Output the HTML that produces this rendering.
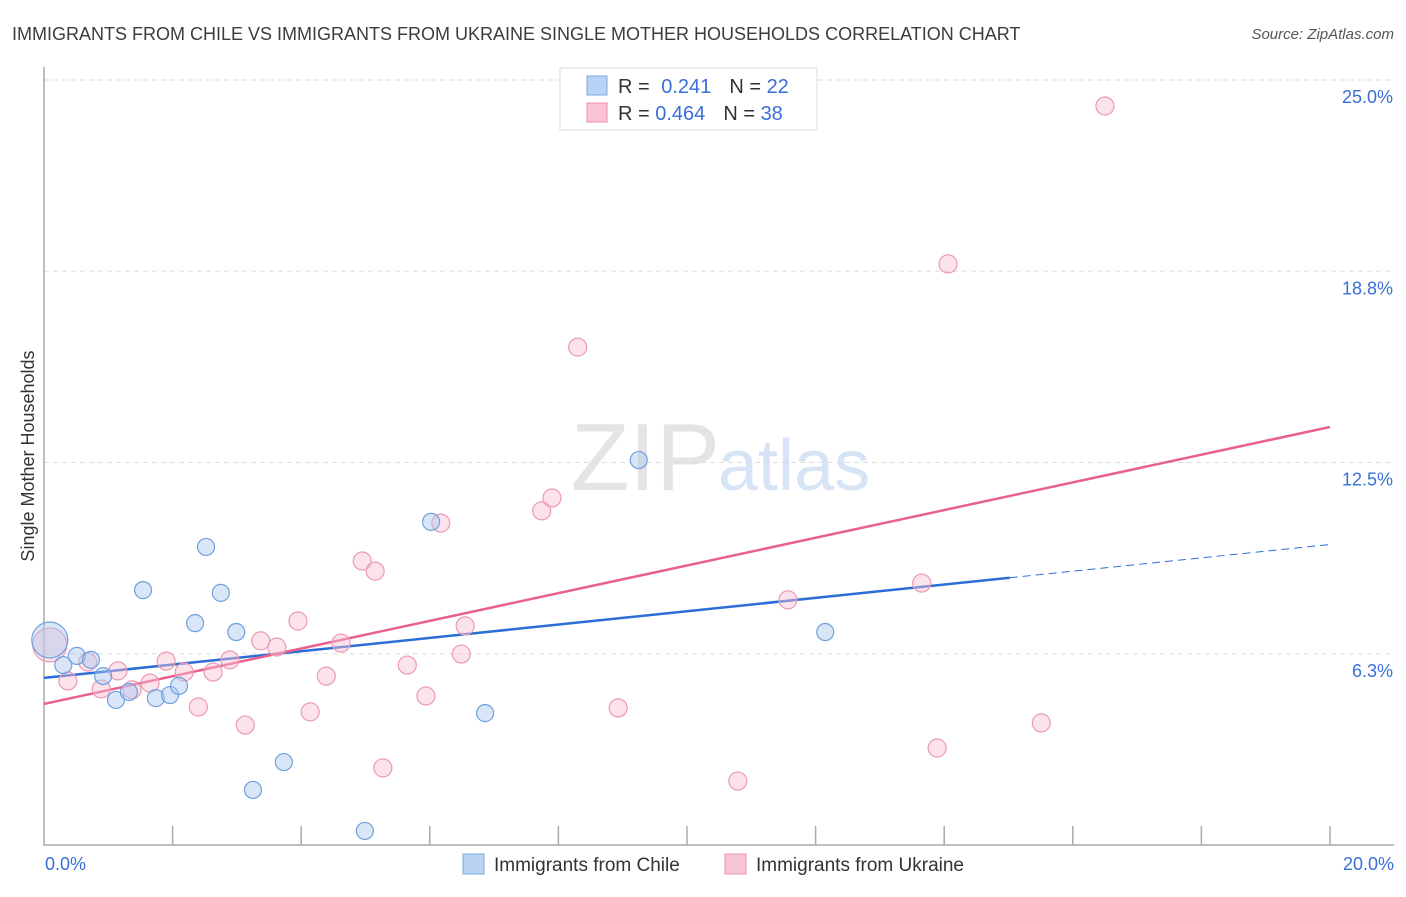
<!DOCTYPE html>
<html><head><meta charset="utf-8"><style>
body{margin:0;background:#fff;font-family:"Liberation Sans",sans-serif;}
svg text{font-family:"Liberation Sans",sans-serif;}
</style></head><body>
<svg id="chart" width="1406" height="892" xmlns="http://www.w3.org/2000/svg">
<text x="12" y="40" font-size="18" fill="#3c3c3c">IMMIGRANTS FROM CHILE VS IMMIGRANTS FROM UKRAINE SINGLE MOTHER HOUSEHOLDS CORRELATION CHART</text>
<text x="1394" y="39" font-size="15" fill="#555" text-anchor="end" font-style="italic">Source: ZipAtlas.com</text>
<text x="720" y="490" font-size="96" fill="#e4e4e4" text-anchor="end" font-family="Liberation Serif">ZIP</text>
<text x="718" y="490" font-size="72" fill="#d6e4f5">atlas</text>
<g id="grid"></g>
<g id="axes"></g>
<g id="trends"></g>
<g id="points"></g>
<text transform="translate(34,456) rotate(-90)" font-size="18" fill="#333" text-anchor="middle">Single Mother Households</text>
<g>
<rect x="560" y="68" width="257" height="62" fill="#fff" stroke="#ddd"/>
<rect x="587" y="76" width="20" height="19" fill="#b8d3f3" stroke="#7aa8e0"/>
<rect x="587" y="103" width="20" height="19" fill="#f9c5d5" stroke="#ee8fac"/>
<text x="618" y="93" font-size="20" fill="#333">R = <tspan fill="#3a6fd8" dx="6">0.241</tspan><tspan dx="18" fill="#333">N = </tspan><tspan fill="#3a6fd8">22</tspan></text>
<text x="618" y="120" font-size="20" fill="#333">R = <tspan fill="#3a6fd8">0.464</tspan><tspan dx="18" fill="#333">N = </tspan><tspan fill="#3a6fd8">38</tspan></text>
</g>
<g>
<rect x="463" y="854" width="21" height="20" fill="#b8d3f3" stroke="#7aa8e0"/>
<text x="494" y="871" font-size="19" fill="#333">Immigrants from Chile</text>
<rect x="725" y="854" width="21" height="20" fill="#f9c5d5" stroke="#ee8fac"/>
<text x="756" y="871" font-size="19" fill="#333">Immigrants from Ukraine</text>
</g>
</svg>
<script>
const chileX=[0.09,0.30,0.51,0.73,0.92,1.12,1.32,1.74,1.96,2.10,1.54,2.35,2.52,2.75,2.99,3.73,3.25,4.99,6.02,6.86,9.25,12.15];
const chileY=[6.70,5.88,6.18,6.05,5.52,4.74,5.00,4.80,4.90,5.20,8.33,7.25,9.74,8.24,6.96,2.71,1.80,0.46,10.56,4.31,12.58,6.96];
const ukrX=[0.09,0.37,0.68,0.89,1.15,1.37,1.65,1.90,2.18,2.40,2.63,2.89,3.13,3.37,3.62,3.95,4.14,4.39,4.62,4.95,5.15,5.27,5.65,5.94,6.17,6.49,6.55,7.74,7.90,8.30,8.93,10.79,11.57,13.65,13.89,14.06,15.51,16.50];
const ukrY=[6.54,5.36,5.98,5.10,5.69,5.07,5.29,6.01,5.65,4.51,5.65,6.05,3.92,6.67,6.47,7.32,4.35,5.52,6.60,9.28,8.95,2.52,5.88,4.87,10.52,6.24,7.16,10.92,11.34,16.27,4.48,2.09,8.01,8.56,3.17,18.99,3.99,24.15];
const chileTrend=[5.46,0.218];
const ukrTrend=[4.61,0.4525];
const yTicks=[25.0,18.8,12.5,6.3];
const yTickVals=[25,18.75,12.5,6.25];
const NS="http://www.w3.org/2000/svg";
const X=v=>44+v*64.3, Y=v=>845-v*30.6;
function mk(t,a,p){const e=document.createElementNS(NS,t);for(const k in a)e.setAttribute(k,a[k]);p.appendChild(e);return e;}
const grid=document.getElementById('grid'),axes=document.getElementById('axes');
yTickVals.forEach((v,i)=>{
 const l=mk('line',{x1:44,x2:1394,y1:Y(v),y2:Y(v),stroke:'#ddd','stroke-dasharray':'5,4'},grid);
 
 
 const t=mk('text',{x:1393,y:Y(v)+23,'font-size':18,fill:'#3a6fd8','text-anchor':'end'},axes);
 t.textContent=yTicks[i].toFixed(1)+'%';
 
 
});
const ax=mk('path',{d:'M44,67 L44,845 L1394,845',fill:'none',stroke:'#aaa','stroke-width':1.5},axes);


for(let i=1;i<=10;i++){const t=mk('line',{x1:X(i*2),x2:X(i*2),y1:826,y2:845,stroke:'#aaa','stroke-width':1.5},axes);
 
 }
const x0=mk('text',{x:45,y:870,'font-size':18,fill:'#3a6fd8'},axes);x0.textContent='0.0%';


const x1=mk('text',{x:1394,y:870,'font-size':18,fill:'#3a6fd8','text-anchor':'end'},axes);x1.textContent='20.0%';


const tr=document.getElementById('trends');
const cEnd=15.02;
let l=mk('line',{x1:X(0),y1:Y(chileTrend[0]),x2:X(cEnd),y2:Y(chileTrend[0]+chileTrend[1]*cEnd),stroke:'#2b6fd6','stroke-width':2.5},tr);


l=mk('line',{x1:X(cEnd),y1:Y(chileTrend[0]+chileTrend[1]*cEnd),x2:X(20),y2:Y(chileTrend[0]+chileTrend[1]*20),stroke:'#2b6fd6','stroke-width':1,'stroke-dasharray':'8,5'},tr);


l=mk('line',{x1:X(0),y1:Y(ukrTrend[0]),x2:X(20),y2:Y(ukrTrend[0]+ukrTrend[1]*20),stroke:'#e8608c','stroke-width':2.5},tr);


const pg=document.getElementById('points');
ukrX.forEach((x,i)=>{const c=mk('circle',{cx:X(x),cy:Y(ukrY[i]),r:i==0?17:9,fill:'rgba(248,190,208,0.45)',stroke:'#eb9ab4','stroke-width':1.2},pg);
 
 });
chileX.forEach((x,i)=>{const c=mk('circle',{cx:X(x),cy:Y(chileY[i]),r:i==0?18:8.5,fill:'rgba(170,200,240,0.45)',stroke:'#6fa0e0','stroke-width':1.2},pg);
 
 });
</script>
</body></html>
